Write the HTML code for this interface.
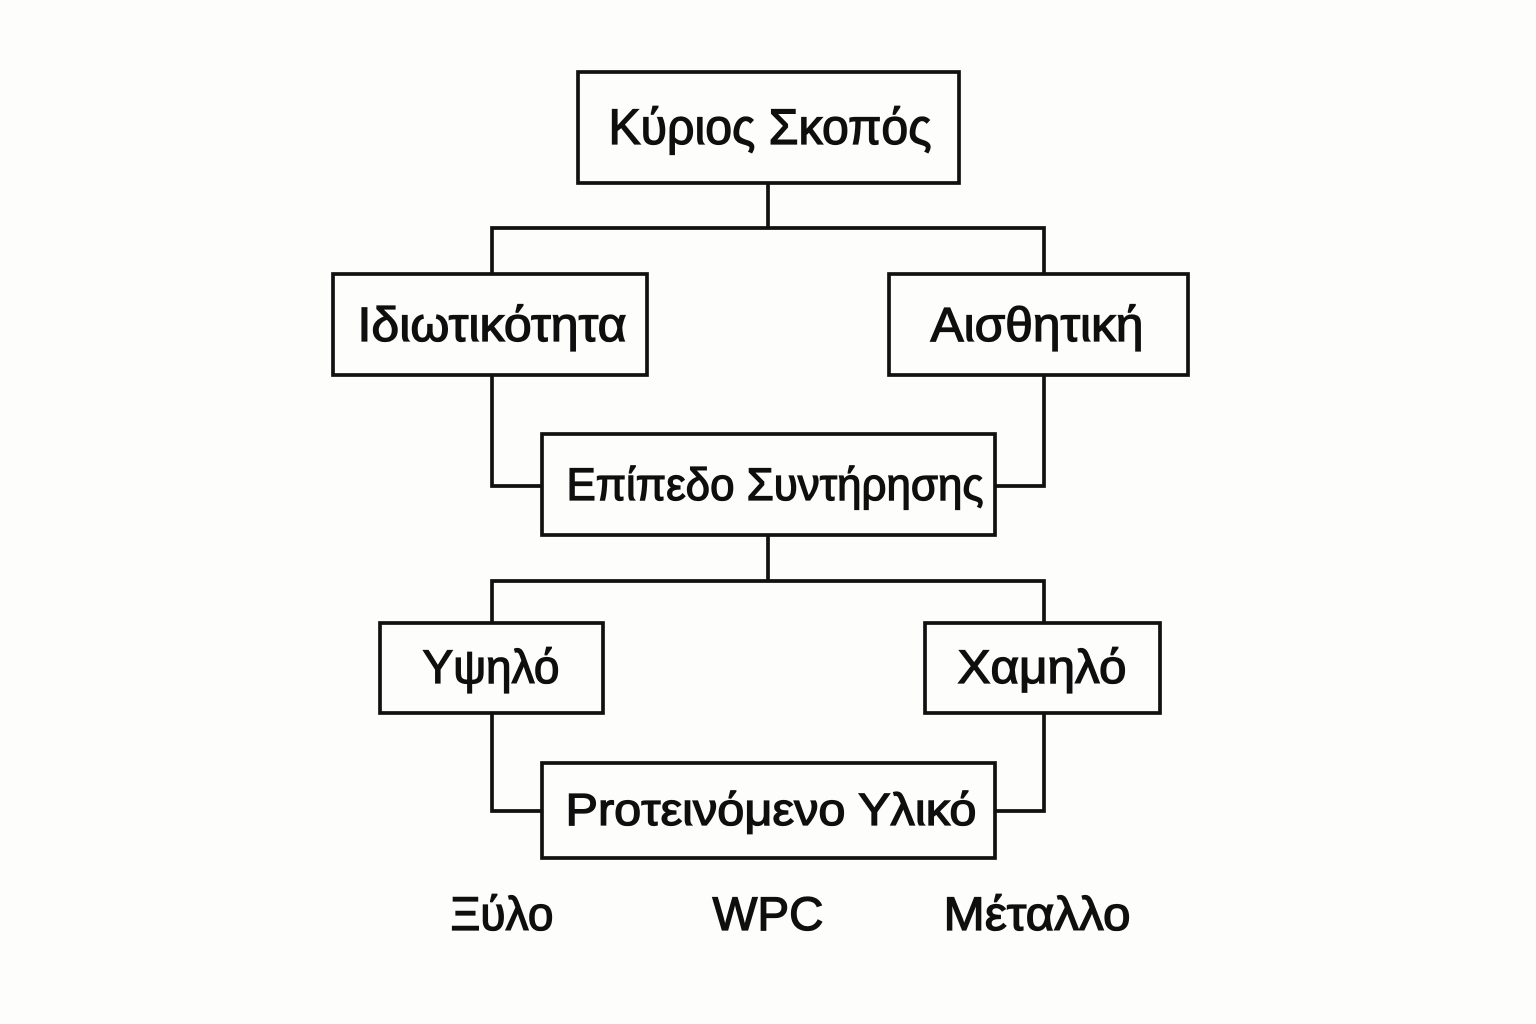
<!DOCTYPE html>
<html lang="el">
<head>
<meta charset="utf-8">
<style>
html,body{margin:0;padding:0;background:#fdfdfb;}
svg{display:block;}
text{font-family:"Liberation Sans",sans-serif;fill:#0f0f0f;text-anchor:middle;stroke:#0f0f0f;stroke-width:1.3px;}
rect,path{fill:none;stroke:#111;stroke-width:3.7;}
</style>
</head>
<body>
<svg width="1536" height="1024" viewBox="0 0 1536 1024" xmlns="http://www.w3.org/2000/svg">
<rect x="0" y="0" width="1536" height="1024" style="fill:#fdfdfb;stroke:none"/>
<path d="M768 183V228M492 273V228H1044V273"/>
<path d="M492 375V486H542M1044 375V486H995"/>
<path d="M768 535V581M492 623V581H1044V623"/>
<path d="M492 713V811H542M1044 713V811H995"/>
<rect x="578" y="72" width="381" height="111"/>
<rect x="333" y="274" width="314" height="101"/>
<rect x="889" y="274" width="299" height="101"/>
<rect x="542" y="434" width="453" height="101"/>
<rect x="380" y="623" width="223" height="90"/>
<rect x="925" y="623" width="235" height="90"/>
<rect x="542" y="763" width="453" height="95"/>
<text x="770" y="144" font-size="50" textLength="323" lengthAdjust="spacingAndGlyphs">Κύριος Σκοπός</text>
<text x="492" y="341" font-size="48" textLength="269" lengthAdjust="spacingAndGlyphs">Ιδιωτικότητα</text>
<text x="1037" y="341" font-size="48" textLength="213" lengthAdjust="spacingAndGlyphs">Αισθητική</text>
<text x="775" y="500" font-size="45" textLength="417" lengthAdjust="spacingAndGlyphs">Επίπεδο Συντήρησης</text>
<text x="491" y="683" font-size="47" textLength="137" lengthAdjust="spacingAndGlyphs">Υψηλό</text>
<text x="1042" y="683" font-size="47" textLength="169" lengthAdjust="spacingAndGlyphs">Χαμηλό</text>
<text x="771" y="825" font-size="45" textLength="411" lengthAdjust="spacingAndGlyphs">Proτεινόμενο Υλικό</text>
<text x="502" y="930" font-size="47" textLength="103" lengthAdjust="spacingAndGlyphs">Ξύλο</text>
<text x="768" y="930" font-size="47" textLength="111" lengthAdjust="spacingAndGlyphs">WPC</text>
<text x="1037" y="930" font-size="47" textLength="187" lengthAdjust="spacingAndGlyphs">Μέταλλο</text>
</svg>
</body>
</html>
